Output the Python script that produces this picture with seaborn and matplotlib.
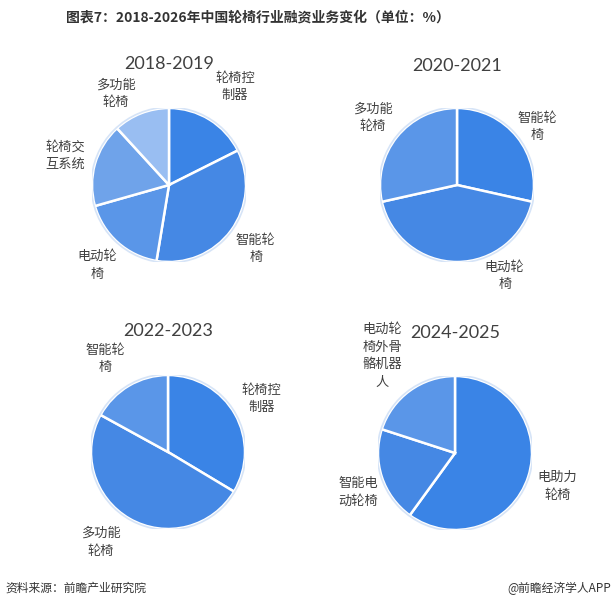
import matplotlib.pyplot as plt
import seaborn as sns

# chart data
periods = ['2018-2019', '2020-2021', '2022-2023', '2024-2025']
labels_1819 = ['轮椅控\n制器', '智能轮\n椅', '电动轮\n椅', '轮椅交\n互系统', '多功能\n轮椅']
values_1819 = [17.6, 35.0, 18.0, 17.6, 11.8]
labels_2021 = ['智能轮\n椅', '电动轮\n椅', '多功能\n轮椅']
values_2021 = [28.5, 43.0, 28.5]
labels_2223 = ['轮椅控\n制器', '多功能\n轮椅', '智能轮\n椅']
values_2223 = [33.6, 49.4, 17.0]
labels_2425 = ['电助力\n轮椅', '智能电\n动轮椅', '电动轮\n椅外骨\n骼机器\n人']
values_2425 = [60.0, 20.0, 20.0]

sns.set_style('white')
plt.rcParams['font.family'] = ['Noto Sans CJK SC', 'DejaVu Sans']

blues = ['#3A84E6', '#4588E4', '#5A96E8', '#6FA3EA', '#99BEF2']

W, H = 614, 609
fig = plt.figure(figsize=(W / 100, H / 100), dpi=100)

# pie centres in pixels (x, y from top), radius 77 px
centres = [(169, 185), (457, 185), (168, 452), (455, 453)]
R = 77
data = [(labels_1819, values_1819), (labels_2021, values_2021),
        (labels_2223, values_2223), (labels_2425, values_2425)]
title_y = [64, 66, 331, 333]
# small label nudges (pie index, label index) -> (dx, dy) in radius units
nudges = {(0, 0): (0.12, 0.08), (0, 4): (-0.18, -0.12), (1, 0): (-0.05, -0.12),
          (1, 1): (0.62, 0.22), (2, 1): (-0.17, 0.04), (2, 2): (-0.1, 0.0),
          (3, 1): (0.08, -0.08), (3, 2): (-0.12, 0.13)}

for i, ((cx, cy), (labs, vals), per, ty) in enumerate(zip(centres, data, periods, title_y)):
    ax = fig.add_axes([(cx - R) / W, (H - cy - R) / H, 2 * R / W, 2 * R / H])
    wedges, texts = ax.pie(vals, labels=labs, colors=blues[:len(vals)], startangle=90,
                           counterclock=False, radius=1, labeldistance=1.4,
                           wedgeprops=dict(edgecolor='white', linewidth=1.8),
                           textprops=dict(ha='center', va='center', fontsize=9.5,
                                          color='#404040', linespacing=1.45))
    for j, t in enumerate(texts):
        if (i, j) in nudges:
            dx, dy = nudges[(i, j)]
            x, y = t.get_position()
            t.set_position((x + dx, y + dy))
    circ = plt.Circle((0, 0), 1.01, fill=False, edgecolor='#D6E4F7', linewidth=1.2)
    ax.add_patch(circ)
    ax.set_xlim(-1, 1)
    ax.set_ylim(-1, 1)
    ax.set_aspect('equal')
    ax.axis('off')
    fig.text(cx / W, 1 - ty / H, per, ha='center', va='center',
             fontsize=13, color='#404040', family=['Lato', 'DejaVu Sans'])

fig.text(0.42, 1 - 18 / H, '图表7：2018-2026年中国轮椅行业融资业务变化（单位：%）',
         ha='center', va='center', fontsize=10, fontweight='bold', color='#333333')
fig.text(5 / W, 1 - 588 / H, '资料来源：前瞻产业研究院', ha='left', va='center',
         fontsize=8.5, color='#333333')
fig.text(611 / W, 1 - 588 / H, '@前瞻经济学人APP', ha='right', va='center',
         fontsize=8.5, color='#333333')

fig.savefig('out.png', dpi=100, facecolor='white')
